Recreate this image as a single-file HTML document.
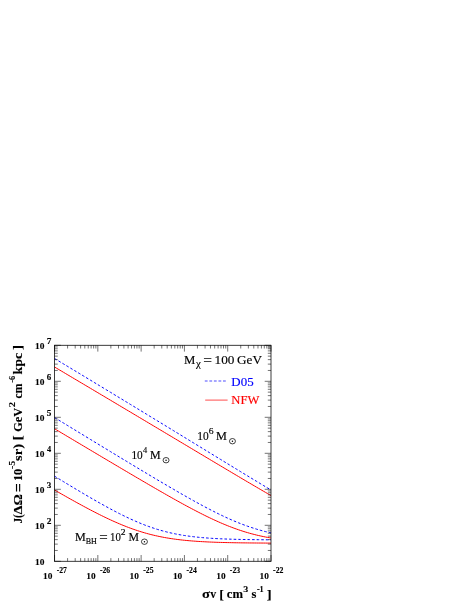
<!DOCTYPE html>
<html><head><meta charset="utf-8"><title>plot</title>
<style>
html,body{margin:0;padding:0;background:#fff;}
body{width:468px;height:605px;position:relative;overflow:hidden;font-family:"Liberation Serif",serif;}
text{white-space:pre;}
</style></head><body>
<svg width="468" height="605" viewBox="0 0 468 605" style="position:absolute;left:0;top:0;will-change:transform">
<polyline fill="none" stroke="#0000ff" stroke-width="1.0" stroke-dasharray="2.6 2.0" points="54.55,358.51 56.35,359.60 58.16,360.68 59.96,361.77 61.77,362.86 63.57,363.94 65.37,365.03 67.18,366.12 68.98,367.21 70.78,368.29 72.59,369.38 74.39,370.47 76.19,371.56 78.00,372.65 79.80,373.74 81.61,374.83 83.41,375.92 85.21,377.01 87.02,378.10 88.82,379.19 90.62,380.28 92.43,381.37 94.23,382.46 96.04,383.55 97.84,384.64 99.64,385.73 101.45,386.83 103.25,387.92 105.06,389.01 106.86,390.10 108.66,391.20 110.47,392.29 112.27,393.38 114.07,394.48 115.88,395.57 117.68,396.67 119.48,397.76 121.29,398.86 123.09,399.95 124.90,401.05 126.70,402.14 128.50,403.24 130.31,404.33 132.11,405.43 133.91,406.53 135.72,407.62 137.52,408.72 139.33,409.82 141.13,410.92 142.93,412.01 144.74,413.11 146.54,414.21 148.34,415.31 150.15,416.41 151.95,417.51 153.76,418.61 155.56,419.71 157.36,420.81 159.17,421.90 160.97,423.01 162.77,424.11 164.58,425.21 166.38,426.31 168.19,427.41 169.99,428.51 171.79,429.61 173.60,430.71 175.40,431.81 177.20,432.92 179.01,434.02 180.81,435.12 182.62,436.22 184.42,437.32 186.22,438.43 188.03,439.53 189.83,440.63 191.63,441.74 193.44,442.84 195.24,443.94 197.05,445.05 198.85,446.15 200.65,447.25 202.46,448.36 204.26,449.46 206.06,450.56 207.87,451.67 209.67,452.77 211.48,453.87 213.28,454.98 215.08,456.08 216.89,457.18 218.69,458.29 220.50,459.39 222.30,460.49 224.10,461.60 225.91,462.70 227.71,463.80 229.51,464.90 231.32,466.00 233.12,467.10 234.93,468.20 236.73,469.30 238.53,470.40 240.34,471.50 242.14,472.60 243.94,473.70 245.75,474.79 247.55,475.89 249.36,476.98 251.16,478.08 252.96,479.17 254.77,480.26 256.57,481.35 258.37,482.43 260.18,483.52 261.98,484.60 263.78,485.69 265.59,486.77 267.39,487.84 269.20,488.92 271.00,489.99"/>
<polyline fill="none" stroke="#ff0000" stroke-width="1.0" points="54.55,367.01 56.35,368.08 58.16,369.15 59.96,370.22 61.77,371.28 63.57,372.35 65.37,373.42 67.18,374.49 68.98,375.56 70.78,376.63 72.59,377.70 74.39,378.78 76.19,379.85 78.00,380.92 79.80,381.99 81.61,383.06 83.41,384.13 85.21,385.20 87.02,386.27 88.82,387.34 90.62,388.42 92.43,389.49 94.23,390.56 96.04,391.63 97.84,392.70 99.64,393.78 101.45,394.85 103.25,395.92 105.06,396.99 106.86,398.07 108.66,399.14 110.47,400.21 112.27,401.29 114.07,402.36 115.88,403.43 117.68,404.51 119.48,405.58 121.29,406.66 123.09,407.73 124.90,408.80 126.70,409.88 128.50,410.95 130.31,412.03 132.11,413.10 133.91,414.18 135.72,415.25 137.52,416.33 139.33,417.40 141.13,418.48 142.93,419.55 144.74,420.63 146.54,421.70 148.34,422.78 150.15,423.86 151.95,424.93 153.76,426.01 155.56,427.08 157.36,428.16 159.17,429.24 160.97,430.31 162.77,431.39 164.58,432.47 166.38,433.54 168.19,434.62 169.99,435.70 171.79,436.78 173.60,437.85 175.40,438.93 177.20,440.01 179.01,441.08 180.81,442.16 182.62,443.24 184.42,444.32 186.22,445.39 188.03,446.47 189.83,447.55 191.63,448.62 193.44,449.70 195.24,450.78 197.05,451.86 198.85,452.93 200.65,454.01 202.46,455.09 204.26,456.16 206.06,457.24 207.87,458.32 209.67,459.39 211.48,460.47 213.28,461.54 215.08,462.62 216.89,463.70 218.69,464.77 220.50,465.84 222.30,466.92 224.10,467.99 225.91,469.07 227.71,470.14 229.51,471.21 231.32,472.28 233.12,473.35 234.93,474.42 236.73,475.49 238.53,476.56 240.34,477.63 242.14,478.70 243.94,479.76 245.75,480.83 247.55,481.89 249.36,482.95 251.16,484.01 252.96,485.07 254.77,486.13 256.57,487.19 258.37,488.24 260.18,489.29 261.98,490.34 263.78,491.39 265.59,492.43 267.39,493.47 269.20,494.51 271.00,495.55"/>
<polyline fill="none" stroke="#0000ff" stroke-width="1.0" stroke-dasharray="2.6 2.0" points="54.55,417.55 56.35,418.66 58.16,419.76 59.96,420.86 61.77,421.96 63.57,423.06 65.37,424.16 67.18,425.26 68.98,426.36 70.78,427.46 72.59,428.56 74.39,429.66 76.19,430.76 78.00,431.86 79.80,432.96 81.61,434.06 83.41,435.16 85.21,436.26 87.02,437.36 88.82,438.45 90.62,439.55 92.43,440.65 94.23,441.75 96.04,442.84 97.84,443.94 99.64,445.04 101.45,446.13 103.25,447.23 105.06,448.32 106.86,449.42 108.66,450.51 110.47,451.60 112.27,452.70 114.07,453.79 115.88,454.88 117.68,455.98 119.48,457.07 121.29,458.16 123.09,459.25 124.90,460.34 126.70,461.43 128.50,462.51 130.31,463.60 132.11,464.69 133.91,465.78 135.72,466.86 137.52,467.95 139.33,469.03 141.13,470.11 142.93,471.19 144.74,472.27 146.54,473.35 148.34,474.43 150.15,475.51 151.95,476.58 153.76,477.66 155.56,478.73 157.36,479.80 159.17,480.87 160.97,481.93 162.77,483.00 164.58,484.06 166.38,485.12 168.19,486.18 169.99,487.24 171.79,488.29 173.60,489.34 175.40,490.39 177.20,491.43 179.01,492.47 180.81,493.51 182.62,494.54 184.42,495.57 186.22,496.60 188.03,497.62 189.83,498.63 191.63,499.64 193.44,500.65 195.24,501.64 197.05,502.64 198.85,503.62 200.65,504.60 202.46,505.57 204.26,506.54 206.06,507.50 207.87,508.44 209.67,509.38 211.48,510.31 213.28,511.23 215.08,512.14 216.89,513.04 218.69,513.93 220.50,514.80 222.30,515.67 224.10,516.52 225.91,517.36 227.71,518.18 229.51,518.99 231.32,519.79 233.12,520.57 234.93,521.33 236.73,522.08 238.53,522.81 240.34,523.53 242.14,524.22 243.94,524.90 245.75,525.57 247.55,526.21 249.36,526.84 251.16,527.44 252.96,528.03 254.77,528.60 256.57,529.15 258.37,529.69 260.18,530.20 261.98,530.69 263.78,531.17 265.59,531.63 267.39,532.07 269.20,532.49 271.00,532.89"/>
<polyline fill="none" stroke="#ff0000" stroke-width="1.0" points="54.55,428.74 56.35,429.81 58.16,430.89 59.96,431.97 61.77,433.04 63.57,434.12 65.37,435.19 67.18,436.27 68.98,437.35 70.78,438.42 72.59,439.50 74.39,440.57 76.19,441.65 78.00,442.72 79.80,443.80 81.61,444.87 83.41,445.94 85.21,447.02 87.02,448.09 88.82,449.17 90.62,450.24 92.43,451.31 94.23,452.39 96.04,453.46 97.84,454.53 99.64,455.60 101.45,456.68 103.25,457.75 105.06,458.82 106.86,459.89 108.66,460.96 110.47,462.03 112.27,463.10 114.07,464.17 115.88,465.24 117.68,466.30 119.48,467.37 121.29,468.44 123.09,469.51 124.90,470.57 126.70,471.64 128.50,472.70 130.31,473.76 132.11,474.82 133.91,475.89 135.72,476.95 137.52,478.01 139.33,479.06 141.13,480.12 142.93,481.18 144.74,482.23 146.54,483.28 148.34,484.33 150.15,485.38 151.95,486.43 153.76,487.47 155.56,488.52 157.36,489.56 159.17,490.60 160.97,491.63 162.77,492.67 164.58,493.70 166.38,494.73 168.19,495.75 169.99,496.77 171.79,497.79 173.60,498.80 175.40,499.81 177.20,500.82 179.01,501.82 180.81,502.81 182.62,503.80 184.42,504.79 186.22,505.77 188.03,506.74 189.83,507.71 191.63,508.67 193.44,509.62 195.24,510.56 197.05,511.50 198.85,512.43 200.65,513.35 202.46,514.26 204.26,515.16 206.06,516.05 207.87,516.93 209.67,517.79 211.48,518.65 213.28,519.49 215.08,520.33 216.89,521.14 218.69,521.95 220.50,522.74 222.30,523.52 224.10,524.28 225.91,525.02 227.71,525.75 229.51,526.47 231.32,527.16 233.12,527.84 234.93,528.51 236.73,529.15 238.53,529.78 240.34,530.39 242.14,530.98 243.94,531.55 245.75,532.11 247.55,532.64 249.36,533.16 251.16,533.66 252.96,534.14 254.77,534.60 256.57,535.05 258.37,535.48 260.18,535.89 261.98,536.28 263.78,536.66 265.59,537.01 267.39,537.36 269.20,537.68 271.00,538.00"/>
<polyline fill="none" stroke="#0000ff" stroke-width="1.0" stroke-dasharray="2.6 2.0" points="54.55,476.20 56.35,477.30 58.16,478.40 59.96,479.50 61.77,480.60 63.57,481.69 65.37,482.79 67.18,483.88 68.98,484.97 70.78,486.06 72.59,487.14 74.39,488.22 76.19,489.30 78.00,490.38 79.80,491.45 81.61,492.52 83.41,493.59 85.21,494.65 87.02,495.71 88.82,496.76 90.62,497.81 92.43,498.86 94.23,499.90 96.04,500.93 97.84,501.95 99.64,502.97 101.45,503.99 103.25,504.99 105.06,505.99 106.86,506.98 108.66,507.96 110.47,508.94 112.27,509.90 114.07,510.85 115.88,511.80 117.68,512.73 119.48,513.65 121.29,514.55 123.09,515.45 124.90,516.33 126.70,517.20 128.50,518.05 130.31,518.89 132.11,519.71 133.91,520.52 135.72,521.31 137.52,522.08 139.33,522.84 141.13,523.58 142.93,524.30 144.74,525.00 146.54,525.68 148.34,526.34 150.15,526.99 151.95,527.61 153.76,528.21 155.56,528.80 157.36,529.36 159.17,529.90 160.97,530.43 162.77,530.93 164.58,531.41 166.38,531.88 168.19,532.32 169.99,532.75 171.79,533.15 173.60,533.54 175.40,533.91 177.20,534.26 179.01,534.60 180.81,534.92 182.62,535.22 184.42,535.51 186.22,535.78 188.03,536.03 189.83,536.28 191.63,536.51 193.44,536.73 195.24,536.93 197.05,537.12 198.85,537.31 200.65,537.48 202.46,537.64 204.26,537.79 206.06,537.93 207.87,538.06 209.67,538.19 211.48,538.31 213.28,538.42 215.08,538.52 216.89,538.62 218.69,538.71 220.50,538.79 222.30,538.87 224.10,538.95 225.91,539.02 227.71,539.08 229.51,539.14 231.32,539.20 233.12,539.25 234.93,539.30 236.73,539.35 238.53,539.39 240.34,539.43 242.14,539.47 243.94,539.50 245.75,539.54 247.55,539.57 249.36,539.59 251.16,539.62 252.96,539.65 254.77,539.67 256.57,539.69 258.37,539.71 260.18,539.73 261.98,539.75 263.78,539.76 265.59,539.78 267.39,539.79 269.20,539.80 271.00,539.82"/>
<polyline fill="none" stroke="#ff0000" stroke-width="1.0" points="54.55,490.03 56.35,491.06 58.16,492.10 59.96,493.13 61.77,494.16 63.57,495.18 65.37,496.20 67.18,497.22 68.98,498.24 70.78,499.25 72.59,500.25 74.39,501.26 76.19,502.25 78.00,503.25 79.80,504.23 81.61,505.21 83.41,506.19 85.21,507.16 87.02,508.12 88.82,509.08 90.62,510.03 92.43,510.97 94.23,511.90 96.04,512.82 97.84,513.74 99.64,514.64 101.45,515.54 103.25,516.43 105.06,517.30 106.86,518.16 108.66,519.01 110.47,519.85 112.27,520.68 114.07,521.49 115.88,522.29 117.68,523.07 119.48,523.84 121.29,524.60 123.09,525.34 124.90,526.06 126.70,526.77 128.50,527.46 130.31,528.13 132.11,528.79 133.91,529.42 135.72,530.04 137.52,530.65 139.33,531.23 141.13,531.79 142.93,532.34 144.74,532.87 146.54,533.38 148.34,533.87 150.15,534.35 151.95,534.80 153.76,535.24 155.56,535.66 157.36,536.06 159.17,536.45 160.97,536.82 162.77,537.17 164.58,537.50 166.38,537.82 168.19,538.13 169.99,538.42 171.79,538.70 173.60,538.96 175.40,539.21 177.20,539.44 179.01,539.67 180.81,539.88 182.62,540.08 184.42,540.27 186.22,540.45 188.03,540.62 189.83,540.78 191.63,540.93 193.44,541.07 195.24,541.20 197.05,541.33 198.85,541.45 200.65,541.56 202.46,541.66 204.26,541.76 206.06,541.85 207.87,541.94 209.67,542.02 211.48,542.10 213.28,542.17 215.08,542.24 216.89,542.30 218.69,542.36 220.50,542.41 222.30,542.46 224.10,542.51 225.91,542.56 227.71,542.60 229.51,542.64 231.32,542.68 233.12,542.71 234.93,542.75 236.73,542.78 238.53,542.81 240.34,542.83 242.14,542.86 243.94,542.88 245.75,542.90 247.55,542.92 249.36,542.94 251.16,542.96 252.96,542.98 254.77,542.99 256.57,543.01 258.37,543.02 260.18,543.03 261.98,543.04 263.78,543.06 265.59,543.07 267.39,543.08 269.20,543.08 271.00,543.09"/>
<rect x="54.55" y="345.3" width="216.45" height="216.00" fill="none" stroke="#1a1a1a" stroke-width="0.85"/>
<path d="M54.55 561.3v-6.3M54.55 345.3v6.3M67.58 561.3v-3.2M67.58 345.3v3.2M75.20 561.3v-3.2M75.20 345.3v3.2M80.61 561.3v-3.2M80.61 345.3v3.2M84.81 561.3v-3.2M84.81 345.3v3.2M88.24 561.3v-3.2M88.24 345.3v3.2M91.13 561.3v-3.2M91.13 345.3v3.2M93.64 561.3v-3.2M93.64 345.3v3.2M95.86 561.3v-3.2M95.86 345.3v3.2M97.84 561.3v-6.3M97.84 345.3v6.3M110.87 561.3v-3.2M110.87 345.3v3.2M118.49 561.3v-3.2M118.49 345.3v3.2M123.90 561.3v-3.2M123.90 345.3v3.2M128.10 561.3v-3.2M128.10 345.3v3.2M131.53 561.3v-3.2M131.53 345.3v3.2M134.42 561.3v-3.2M134.42 345.3v3.2M136.93 561.3v-3.2M136.93 345.3v3.2M139.15 561.3v-3.2M139.15 345.3v3.2M141.13 561.3v-6.3M141.13 345.3v6.3M154.16 561.3v-3.2M154.16 345.3v3.2M161.78 561.3v-3.2M161.78 345.3v3.2M167.19 561.3v-3.2M167.19 345.3v3.2M171.39 561.3v-3.2M171.39 345.3v3.2M174.82 561.3v-3.2M174.82 345.3v3.2M177.71 561.3v-3.2M177.71 345.3v3.2M180.22 561.3v-3.2M180.22 345.3v3.2M182.44 561.3v-3.2M182.44 345.3v3.2M184.42 561.3v-6.3M184.42 345.3v6.3M197.45 561.3v-3.2M197.45 345.3v3.2M205.07 561.3v-3.2M205.07 345.3v3.2M210.48 561.3v-3.2M210.48 345.3v3.2M214.68 561.3v-3.2M214.68 345.3v3.2M218.11 561.3v-3.2M218.11 345.3v3.2M221.00 561.3v-3.2M221.00 345.3v3.2M223.51 561.3v-3.2M223.51 345.3v3.2M225.73 561.3v-3.2M225.73 345.3v3.2M227.71 561.3v-6.3M227.71 345.3v6.3M240.74 561.3v-3.2M240.74 345.3v3.2M248.36 561.3v-3.2M248.36 345.3v3.2M253.77 561.3v-3.2M253.77 345.3v3.2M257.97 561.3v-3.2M257.97 345.3v3.2M261.40 561.3v-3.2M261.40 345.3v3.2M264.29 561.3v-3.2M264.29 345.3v3.2M266.80 561.3v-3.2M266.80 345.3v3.2M269.02 561.3v-3.2M269.02 345.3v3.2M271.00 561.3v-6.3M271.00 345.3v6.3M54.55 561.30h6.3M271.0 561.30h-6.3M54.55 550.46h3.2M271.0 550.46h-3.2M54.55 544.12h3.2M271.0 544.12h-3.2M54.55 539.63h3.2M271.0 539.63h-3.2M54.55 536.14h3.2M271.0 536.14h-3.2M54.55 533.29h3.2M271.0 533.29h-3.2M54.55 530.88h3.2M271.0 530.88h-3.2M54.55 528.79h3.2M271.0 528.79h-3.2M54.55 526.95h3.2M271.0 526.95h-3.2M54.55 525.30h6.3M271.0 525.30h-6.3M54.55 514.46h3.2M271.0 514.46h-3.2M54.55 508.12h3.2M271.0 508.12h-3.2M54.55 503.63h3.2M271.0 503.63h-3.2M54.55 500.14h3.2M271.0 500.14h-3.2M54.55 497.29h3.2M271.0 497.29h-3.2M54.55 494.88h3.2M271.0 494.88h-3.2M54.55 492.79h3.2M271.0 492.79h-3.2M54.55 490.95h3.2M271.0 490.95h-3.2M54.55 489.30h6.3M271.0 489.30h-6.3M54.55 478.46h3.2M271.0 478.46h-3.2M54.55 472.12h3.2M271.0 472.12h-3.2M54.55 467.63h3.2M271.0 467.63h-3.2M54.55 464.14h3.2M271.0 464.14h-3.2M54.55 461.29h3.2M271.0 461.29h-3.2M54.55 458.88h3.2M271.0 458.88h-3.2M54.55 456.79h3.2M271.0 456.79h-3.2M54.55 454.95h3.2M271.0 454.95h-3.2M54.55 453.30h6.3M271.0 453.30h-6.3M54.55 442.46h3.2M271.0 442.46h-3.2M54.55 436.12h3.2M271.0 436.12h-3.2M54.55 431.63h3.2M271.0 431.63h-3.2M54.55 428.14h3.2M271.0 428.14h-3.2M54.55 425.29h3.2M271.0 425.29h-3.2M54.55 422.88h3.2M271.0 422.88h-3.2M54.55 420.79h3.2M271.0 420.79h-3.2M54.55 418.95h3.2M271.0 418.95h-3.2M54.55 417.30h6.3M271.0 417.30h-6.3M54.55 406.46h3.2M271.0 406.46h-3.2M54.55 400.12h3.2M271.0 400.12h-3.2M54.55 395.63h3.2M271.0 395.63h-3.2M54.55 392.14h3.2M271.0 392.14h-3.2M54.55 389.29h3.2M271.0 389.29h-3.2M54.55 386.88h3.2M271.0 386.88h-3.2M54.55 384.79h3.2M271.0 384.79h-3.2M54.55 382.95h3.2M271.0 382.95h-3.2M54.55 381.30h6.3M271.0 381.30h-6.3M54.55 370.46h3.2M271.0 370.46h-3.2M54.55 364.12h3.2M271.0 364.12h-3.2M54.55 359.63h3.2M271.0 359.63h-3.2M54.55 356.14h3.2M271.0 356.14h-3.2M54.55 353.29h3.2M271.0 353.29h-3.2M54.55 350.88h3.2M271.0 350.88h-3.2M54.55 348.79h3.2M271.0 348.79h-3.2M54.55 346.95h3.2M271.0 346.95h-3.2M54.55 345.30h6.3M271.0 345.30h-6.3" stroke="#000" stroke-width="0.55" fill="none"/>
<text x="34.95" y="564.70" textLength="9.41" lengthAdjust="spacingAndGlyphs" font-family="Liberation Serif" font-size="9.1" font-weight="bold" stroke="#000" stroke-width="0.12">10</text>
<text x="34.95" y="528.70" textLength="9.41" lengthAdjust="spacingAndGlyphs" font-family="Liberation Serif" font-size="9.1" font-weight="bold" stroke="#000" stroke-width="0.12">10</text>
<text x="46.81" y="523.60" textLength="4.70" lengthAdjust="spacingAndGlyphs" font-family="Liberation Serif" font-size="7.5" font-weight="bold" stroke="#000" stroke-width="0.12">2</text>
<text x="34.95" y="492.70" textLength="9.41" lengthAdjust="spacingAndGlyphs" font-family="Liberation Serif" font-size="9.1" font-weight="bold" stroke="#000" stroke-width="0.12">10</text>
<text x="46.86" y="487.60" textLength="4.55" lengthAdjust="spacingAndGlyphs" font-family="Liberation Serif" font-size="7.5" font-weight="bold" stroke="#000" stroke-width="0.12">3</text>
<text x="34.95" y="456.70" textLength="9.41" lengthAdjust="spacingAndGlyphs" font-family="Liberation Serif" font-size="9.1" font-weight="bold" stroke="#000" stroke-width="0.12">10</text>
<text x="47.09" y="451.60" textLength="4.17" lengthAdjust="spacingAndGlyphs" font-family="Liberation Serif" font-size="7.5" font-weight="bold" stroke="#000" stroke-width="0.12">4</text>
<text x="34.95" y="420.70" textLength="9.41" lengthAdjust="spacingAndGlyphs" font-family="Liberation Serif" font-size="9.1" font-weight="bold" stroke="#000" stroke-width="0.12">10</text>
<text x="46.83" y="415.60" textLength="4.61" lengthAdjust="spacingAndGlyphs" font-family="Liberation Serif" font-size="7.5" font-weight="bold" stroke="#000" stroke-width="0.12">5</text>
<text x="34.95" y="384.70" textLength="9.41" lengthAdjust="spacingAndGlyphs" font-family="Liberation Serif" font-size="9.1" font-weight="bold" stroke="#000" stroke-width="0.12">10</text>
<text x="46.89" y="379.60" textLength="4.47" lengthAdjust="spacingAndGlyphs" font-family="Liberation Serif" font-size="7.5" font-weight="bold" stroke="#000" stroke-width="0.12">6</text>
<text x="34.95" y="348.70" textLength="9.41" lengthAdjust="spacingAndGlyphs" font-family="Liberation Serif" font-size="9.1" font-weight="bold" stroke="#000" stroke-width="0.12">10</text>
<text x="46.67" y="343.60" textLength="4.66" lengthAdjust="spacingAndGlyphs" font-family="Liberation Serif" font-size="7.5" font-weight="bold" stroke="#000" stroke-width="0.12">7</text>
<text x="43.05" y="578.50" textLength="9.36" lengthAdjust="spacingAndGlyphs" font-family="Liberation Serif" font-size="9.1" font-weight="bold" stroke="#000" stroke-width="0.12">10</text>
<text x="56.67" y="572.60" textLength="10.22" lengthAdjust="spacingAndGlyphs" font-family="Liberation Serif" font-size="7.3" font-weight="bold" stroke="#000" stroke-width="0.12">-27</text>
<text x="86.34" y="578.50" textLength="9.36" lengthAdjust="spacingAndGlyphs" font-family="Liberation Serif" font-size="9.1" font-weight="bold" stroke="#000" stroke-width="0.12">10</text>
<text x="99.96" y="572.60" textLength="10.26" lengthAdjust="spacingAndGlyphs" font-family="Liberation Serif" font-size="7.3" font-weight="bold" stroke="#000" stroke-width="0.12">-26</text>
<text x="129.63" y="578.50" textLength="9.36" lengthAdjust="spacingAndGlyphs" font-family="Liberation Serif" font-size="9.1" font-weight="bold" stroke="#000" stroke-width="0.12">10</text>
<text x="143.25" y="572.60" textLength="10.32" lengthAdjust="spacingAndGlyphs" font-family="Liberation Serif" font-size="7.3" font-weight="bold" stroke="#000" stroke-width="0.12">-25</text>
<text x="172.92" y="578.50" textLength="9.36" lengthAdjust="spacingAndGlyphs" font-family="Liberation Serif" font-size="9.1" font-weight="bold" stroke="#000" stroke-width="0.12">10</text>
<text x="186.54" y="572.60" textLength="10.17" lengthAdjust="spacingAndGlyphs" font-family="Liberation Serif" font-size="7.3" font-weight="bold" stroke="#000" stroke-width="0.12">-24</text>
<text x="216.21" y="578.50" textLength="9.36" lengthAdjust="spacingAndGlyphs" font-family="Liberation Serif" font-size="9.1" font-weight="bold" stroke="#000" stroke-width="0.12">10</text>
<text x="229.83" y="572.60" textLength="10.30" lengthAdjust="spacingAndGlyphs" font-family="Liberation Serif" font-size="7.3" font-weight="bold" stroke="#000" stroke-width="0.12">-23</text>
<text x="259.50" y="578.50" textLength="9.36" lengthAdjust="spacingAndGlyphs" font-family="Liberation Serif" font-size="9.1" font-weight="bold" stroke="#000" stroke-width="0.12">10</text>
<text x="273.12" y="572.60" textLength="10.37" lengthAdjust="spacingAndGlyphs" font-family="Liberation Serif" font-size="7.3" font-weight="bold" stroke="#000" stroke-width="0.12">-22</text>
<text x="202.14" y="598.10" textLength="7.94" lengthAdjust="spacingAndGlyphs" font-family="Liberation Serif" font-size="12.5" font-weight="bold" stroke="#000" stroke-width="0.12">σ</text>
<text x="210.20" y="598.10" textLength="5.90" lengthAdjust="spacingAndGlyphs" font-family="Liberation Serif" font-size="12.5" font-weight="bold" stroke="#000" stroke-width="0.12">v</text>
<text x="219.37" y="598.70" textLength="4.64" lengthAdjust="spacingAndGlyphs" font-family="Liberation Serif" font-size="13.4" font-weight="bold" stroke="#000" stroke-width="0.12">[</text>
<text x="226.87" y="598.10" textLength="16.15" lengthAdjust="spacingAndGlyphs" font-family="Liberation Serif" font-size="12.5" font-weight="bold" stroke="#000" stroke-width="0.12">cm</text>
<text x="243.22" y="592.30" textLength="5.02" lengthAdjust="spacingAndGlyphs" font-family="Liberation Serif" font-size="9.2" font-weight="bold" stroke="#000" stroke-width="0.12">3</text>
<text x="251.52" y="598.10" textLength="4.89" lengthAdjust="spacingAndGlyphs" font-family="Liberation Serif" font-size="12.5" font-weight="bold" stroke="#000" stroke-width="0.12">s</text>
<text x="256.90" y="592.10" textLength="6.82" lengthAdjust="spacingAndGlyphs" font-family="Liberation Serif" font-size="8.2" font-weight="bold" stroke="#000" stroke-width="0.12">-1</text>
<text x="266.76" y="598.70" textLength="4.94" lengthAdjust="spacingAndGlyphs" font-family="Liberation Serif" font-size="13.4" font-weight="bold" stroke="#000" stroke-width="0.12">]</text>
<text transform="translate(21.80,522.95) rotate(-90)" x="-0.49" y="0" textLength="9.20" lengthAdjust="spacingAndGlyphs" font-family="Liberation Serif" font-size="12.5" font-weight="bold" stroke="#000" stroke-width="0.12">J(</text>
<text transform="translate(21.80,514.30) rotate(-90)" x="-0.19" y="0" textLength="20.22" lengthAdjust="spacingAndGlyphs" font-family="Liberation Serif" font-size="12.5" font-weight="bold" stroke="#000" stroke-width="0.12">ΔΩ</text>
<text transform="translate(23.30,491.35) rotate(-90)" x="-0.79" y="0" textLength="9.01" lengthAdjust="spacingAndGlyphs" font-family="Liberation Serif" font-size="14" font-weight="bold" stroke="#000" stroke-width="0.12">=</text>
<text transform="translate(21.80,480.10) rotate(-90)" x="-0.98" y="0" textLength="12.25" lengthAdjust="spacingAndGlyphs" font-family="Liberation Serif" font-size="12.5" font-weight="bold" stroke="#000" stroke-width="0.12">10</text>
<text transform="translate(14.50,468.70) rotate(-90)" x="-0.36" y="0" textLength="8.22" lengthAdjust="spacingAndGlyphs" font-family="Liberation Serif" font-size="8.6" font-weight="bold" stroke="#000" stroke-width="0.12">-5</text>
<text transform="translate(21.80,460.45) rotate(-90)" x="-0.44" y="0" textLength="16.93" lengthAdjust="spacingAndGlyphs" font-family="Liberation Serif" font-size="12.5" font-weight="bold" stroke="#000" stroke-width="0.12">sr)</text>
<text transform="translate(21.80,439.15) rotate(-90)" x="-1.12" y="0" textLength="5.01" lengthAdjust="spacingAndGlyphs" font-family="Liberation Serif" font-size="12.5" font-weight="bold" stroke="#000" stroke-width="0.12">[</text>
<text transform="translate(21.80,431.20) rotate(-90)" x="-0.60" y="0" textLength="24.04" lengthAdjust="spacingAndGlyphs" font-family="Liberation Serif" font-size="12.5" font-weight="bold" stroke="#000" stroke-width="0.12">GeV</text>
<text transform="translate(14.50,406.90) rotate(-90)" x="-0.45" y="0" textLength="5.30" lengthAdjust="spacingAndGlyphs" font-family="Liberation Serif" font-size="8.6" font-weight="bold" stroke="#000" stroke-width="0.12">2</text>
<text transform="translate(21.80,398.00) rotate(-90)" x="-0.40" y="0" textLength="14.95" lengthAdjust="spacingAndGlyphs" font-family="Liberation Serif" font-size="12.5" font-weight="bold" stroke="#000" stroke-width="0.12">cm</text>
<text transform="translate(14.50,382.50) rotate(-90)" x="-0.30" y="0" textLength="6.84" lengthAdjust="spacingAndGlyphs" font-family="Liberation Serif" font-size="8.6" font-weight="bold" stroke="#000" stroke-width="0.12">-6</text>
<text transform="translate(21.80,374.20) rotate(-90)" x="-0.35" y="0" textLength="21.80" lengthAdjust="spacingAndGlyphs" font-family="Liberation Serif" font-size="12.5" font-weight="bold" stroke="#000" stroke-width="0.12">kpc</text>
<text transform="translate(21.80,349.40) rotate(-90)" x="-0.55" y="0" textLength="5.09" lengthAdjust="spacingAndGlyphs" font-family="Liberation Serif" font-size="12.5" font-weight="bold" stroke="#000" stroke-width="0.12">]</text>
<text x="183.93" y="363.60" textLength="11.34" lengthAdjust="spacingAndGlyphs" font-family="Liberation Serif" font-size="12.4" stroke="#000" stroke-width="0.15">M</text>
<text x="195.91" y="367.40" textLength="4.84" lengthAdjust="spacingAndGlyphs" font-family="Liberation Serif" font-size="10.7" stroke="#000" stroke-width="0.15">χ</text>
<text x="203.23" y="365.40" textLength="8.73" lengthAdjust="spacingAndGlyphs" font-family="Liberation Serif" font-size="14" stroke="#000" stroke-width="0.15">=</text>
<text x="214.64" y="363.60" textLength="19.87" lengthAdjust="spacingAndGlyphs" font-family="Liberation Serif" font-size="12.4" stroke="#000" stroke-width="0.15">100</text>
<text x="237.06" y="363.60" textLength="24.99" lengthAdjust="spacingAndGlyphs" font-family="Liberation Serif" font-size="12.4" stroke="#000" stroke-width="0.15">GeV</text>
<line x1="204.8" x2="225.9" y1="381.0" y2="381.0" stroke="#0000ff" stroke-width="0.7" stroke-dasharray="2.8 1.75"/>
<line x1="205.2" x2="227.6" y1="400.1" y2="400.1" stroke="#ff0000" stroke-width="0.7"/>
<text x="231.33" y="385.50" textLength="22.28" lengthAdjust="spacingAndGlyphs" font-family="Liberation Serif" font-size="12.4" fill="#0000ff" stroke="#0000ff" stroke-width="0.15">D05</text>
<text x="231.34" y="404.30" textLength="28.09" lengthAdjust="spacingAndGlyphs" font-family="Liberation Serif" font-size="12.4" fill="#ff0000" stroke="#ff0000" stroke-width="0.15">NFW</text>
<text x="197.29" y="439.80" textLength="11.44" lengthAdjust="spacingAndGlyphs" font-family="Liberation Serif" font-size="12.4" stroke="#000" stroke-width="0.15">10</text>
<text x="208.79" y="434.10" textLength="4.80" lengthAdjust="spacingAndGlyphs" font-family="Liberation Serif" font-size="8.5" stroke="#000" stroke-width="0.15">6</text>
<text x="215.95" y="439.80" textLength="10.91" lengthAdjust="spacingAndGlyphs" font-family="Liberation Serif" font-size="12.4" stroke="#000" stroke-width="0.15">M</text>
<ellipse cx="232.45" cy="441.2" rx="3.0" ry="2.7" fill="none" stroke="#000" stroke-width="0.75"/><circle cx="232.45" cy="441.2" r="0.75" fill="#000"/>
<text x="131.40" y="458.90" textLength="11.33" lengthAdjust="spacingAndGlyphs" font-family="Liberation Serif" font-size="12.4" stroke="#000" stroke-width="0.15">10</text>
<text x="143.04" y="453.20" textLength="4.19" lengthAdjust="spacingAndGlyphs" font-family="Liberation Serif" font-size="8.5" stroke="#000" stroke-width="0.15">4</text>
<text x="150.05" y="458.90" textLength="10.70" lengthAdjust="spacingAndGlyphs" font-family="Liberation Serif" font-size="12.4" stroke="#000" stroke-width="0.15">M</text>
<ellipse cx="166.05" cy="460.2" rx="3.0" ry="2.7" fill="none" stroke="#000" stroke-width="0.75"/><circle cx="166.05" cy="460.2" r="0.75" fill="#000"/>
<text x="74.95" y="540.60" textLength="10.81" lengthAdjust="spacingAndGlyphs" font-family="Liberation Serif" font-size="12.4" stroke="#000" stroke-width="0.15">M</text>
<text x="85.67" y="544.10" textLength="11.17" lengthAdjust="spacingAndGlyphs" font-family="Liberation Serif" font-size="8.4" stroke="#000" stroke-width="0.15">BH</text>
<text x="99.35" y="542.40" textLength="8.48" lengthAdjust="spacingAndGlyphs" font-family="Liberation Serif" font-size="14" stroke="#000" stroke-width="0.15">=</text>
<text x="110.01" y="540.60" textLength="10.80" lengthAdjust="spacingAndGlyphs" font-family="Liberation Serif" font-size="12.4" stroke="#000" stroke-width="0.15">10</text>
<text x="120.73" y="535.00" textLength="4.80" lengthAdjust="spacingAndGlyphs" font-family="Liberation Serif" font-size="8.5" stroke="#000" stroke-width="0.15">2</text>
<text x="128.51" y="540.60" textLength="10.54" lengthAdjust="spacingAndGlyphs" font-family="Liberation Serif" font-size="12.4" stroke="#000" stroke-width="0.15">M</text>
<ellipse cx="144.45" cy="541.7" rx="3.0" ry="2.7" fill="none" stroke="#000" stroke-width="0.75"/><circle cx="144.45" cy="541.7" r="0.75" fill="#000"/>
</svg>
</body></html>
